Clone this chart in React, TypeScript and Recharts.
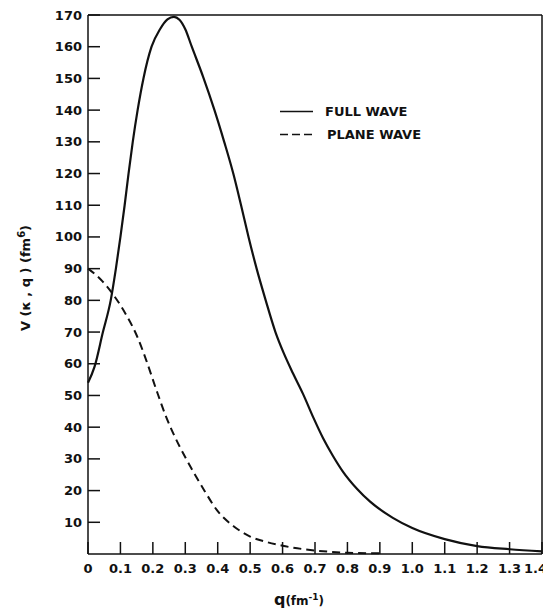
import React from 'react';
import { LineChart, Line, XAxis, YAxis, Legend } from 'recharts';

// values: q in fm^-1, V in fm^6
const fullWaveQ = [0, 0.02, 0.046, 0.07, 0.086, 0.1, 0.113, 0.125, 0.138, 0.153, 0.171, 0.196, 0.222, 0.245, 0.265, 0.282, 0.3, 0.32, 0.355, 0.39, 0.42, 0.448, 0.472, 0.495, 0.52, 0.548, 0.578, 0.603, 0.632, 0.663, 0.695, 0.725, 0.755, 0.786, 0.83, 0.87, 0.94, 1.0, 1.1, 1.2, 1.3, 1.4];
const fullWaveV = [54, 59, 70, 80, 90, 100, 110, 120, 130, 140, 150, 160, 165.5, 168.6, 169.4, 168.5, 165.5, 160, 150.5, 140, 130, 120, 110, 100, 90, 80, 70, 63.5, 57, 50.5, 43, 36.5, 31, 26, 20.5, 16.5, 11.4, 8.2, 4.7, 2.5, 1.5, 0.8];

const planeWaveQ = [0, 0.04, 0.08, 0.12, 0.15, 0.18, 0.21, 0.24, 0.27, 0.3, 0.33, 0.36, 0.4, 0.45, 0.5, 0.55, 0.6, 0.7, 0.8, 0.9];
const planeWaveV = [90, 86.5, 81.5, 75, 69, 61, 52, 43.5, 36.5, 30.5, 25, 19.8, 13.5, 8.7, 5.5, 3.8, 2.6, 1.1, 0.4, 0.2];

const xTicks = [0, 0.1, 0.2, 0.3, 0.4, 0.5, 0.6, 0.7, 0.8, 0.9, 1.0, 1.1, 1.2, 1.3, 1.4];
const yTicks = [10, 20, 30, 40, 50, 60, 70, 80, 90, 100, 110, 120, 130, 140, 150, 160, 170];

const fullWave = fullWaveQ.map((q, i) => ({ q, v: fullWaveV[i] }));
const planeWave = planeWaveQ.map((q, i) => ({ q, v: planeWaveV[i] }));

const ink = '#111';
const font = '"DejaVu Sans", "Liberation Sans", sans-serif';
const TICK = 12;
const xMax = 1.4;

const fmtX = (v: number) => (v === 0 ? '0' : v.toFixed(1));

const BottomTick = ({ x, y, payload }: any) => {
  // last label sits at the page edge, so keep it inside
  const last = payload.value === xMax;
  return (
    <g>
      <line x1={x} y1={y} x2={x} y2={y - TICK} stroke={ink} strokeWidth={1.5} />
      <text x={last ? x + 5 : x} y={y + 19} textAnchor={last ? 'end' : 'middle'} fontSize={13}
        fontWeight="bold" fontFamily={font} fill={ink}>
        {fmtX(payload.value)}
      </text>
    </g>
  );
};

const TopTick = ({ x, y }: any) => (
  <line x1={x} y1={y} x2={x} y2={y + TICK} stroke={ink} strokeWidth={1.5} />
);

const LeftTick = ({ x, y, payload }: any) => (
  <g>
    <line x1={x} y1={y} x2={x + TICK} y2={y} stroke={ink} strokeWidth={1.5} />
    <text x={x - 6} y={y + 4.5} textAnchor="end" fontSize={13} fontWeight="bold" fontFamily={font} fill={ink}>
      {payload.value}
    </text>
  </g>
);

const RightTick = ({ x, y }: any) => (
  <line x1={x} y1={y} x2={x - TICK} y2={y} stroke={ink} strokeWidth={1.5} />
);

const legendStyles: Record<string, string | undefined> = {
  'FULL WAVE': undefined,
  'PLANE WAVE': '8 4',
};

const renderLegend = (props: any) => (
  <div style={{ fontFamily: font, fontSize: 13, fontWeight: 'bold', color: ink }}>
    {(props.payload || []).map((entry: any) => (
      <div key={entry.value} style={{ display: 'flex', alignItems: 'center', height: 23 }}>
        <svg width={33} height={23} style={{ display: 'block' }}>
          <line x1={0} y1={11.5} x2={33} y2={11.5} stroke={ink} strokeWidth={1.6}
            strokeDasharray={legendStyles[entry.value]} />
        </svg>
        <span style={{ marginLeft: entry.value === 'PLANE WAVE' ? 14 : 12 }}>{entry.value}</span>
      </div>
    ))}
  </div>
);

const YLabel = ({ viewBox }: any) => {
  const cx = viewBox.x + 22;
  const cy = viewBox.y + 263;
  return (
    <text x={cx} y={cy} transform={`rotate(-90 ${cx} ${cy})`} textAnchor="middle"
      fontSize={13} fontWeight="bold" fontFamily={font} fill={ink}>
      V (κ , q ) (fm<tspan baselineShift="super" fontSize={10}>6</tspan>)
    </text>
  );
};

const XLabel = ({ viewBox }: any) => (
  <text x={viewBox.x + 211} y={viewBox.y + 51} textAnchor="middle" fontFamily={font} fontWeight="bold" fill={ink}>
    <tspan fontSize={16}>q</tspan>
    <tspan fontSize={12}>(fm<tspan baselineShift="super" fontSize={9}>-1</tspan>)</tspan>
  </text>
);

export default function App() {
  return (
    <div style={{ width: 543, height: 603, background: '#fff' }}>
      <LineChart width={543} height={603} margin={{ top: 0, right: 0, bottom: 0, left: 0 }}>
        <XAxis
          dataKey="q"
          type="number"
          domain={[0, xMax]}
          ticks={xTicks}
          interval={0}
          height={57}
          tickSize={0}
          tickMargin={0}
          tickLine={false}
          axisLine={{ stroke: ink, strokeWidth: 1.5 }}
          tick={(p: any) => <BottomTick {...p} />}
          label={(p: any) => <XLabel {...p} />}
        />
        <XAxis
          xAxisId="top"
          orientation="top"
          type="number"
          domain={[0, xMax]}
          ticks={xTicks}
          interval={0}
          height={7}
          tickSize={0}
          tickMargin={0}
          tickLine={false}
          axisLine={{ stroke: ink, strokeWidth: 1.5 }}
          tick={(p: any) => <TopTick {...p} />}
        />
        <YAxis
          type="number"
          domain={[0, 170]}
          ticks={yTicks}
          interval={0}
          width={80}
          tickSize={0}
          tickMargin={0}
          tickLine={false}
          axisLine={{ stroke: ink, strokeWidth: 1.5 }}
          tick={(p: any) => <LeftTick {...p} />}
          label={(p: any) => <YLabel {...p} />}
        />
        <YAxis
          yAxisId="right"
          orientation="right"
          type="number"
          domain={[0, 170]}
          ticks={yTicks}
          interval={0}
          width={9}
          tickSize={0}
          tickMargin={0}
          tickLine={false}
          axisLine={{ stroke: ink, strokeWidth: 1.5 }}
          tick={(p: any) => <RightTick {...p} />}
        />
        <Legend
          layout="vertical"
          align="center"
          verticalAlign="middle"
          content={renderLegend}
          wrapperStyle={{ position: 'absolute', left: 272, top: 92, width: 200 }}
        />
        <Line
          data={fullWave}
          dataKey="v"
          name="FULL WAVE"
          type="monotone"
          stroke={ink}
          strokeWidth={2.2}
          dot={false}
          isAnimationActive={false}
        />
        <Line
          data={planeWave}
          dataKey="v"
          name="PLANE WAVE"
          type="monotone"
          stroke={ink}
          strokeWidth={2}
          strokeDasharray="8 5"
          dot={false}
          isAnimationActive={false}
        />
      </LineChart>
    </div>
  );
}
